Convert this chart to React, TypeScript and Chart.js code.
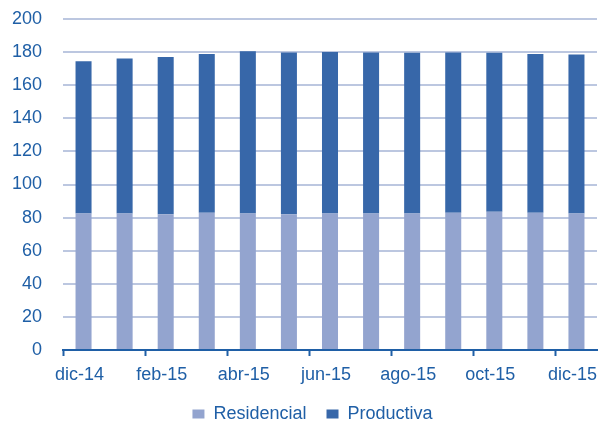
import React, { useEffect, useRef } from "react";
import { Chart, registerables } from "chart.js";

Chart.register(...registerables);

const categories = ["dic-14","ene-15","feb-15","mar-15","abr-15","may-15","jun-15","jul-15","ago-15","sep-15","oct-15","nov-15","dic-15"];
const residencial = [82.5, 82.5, 82, 83, 82.5, 82, 82.5, 82.5, 82.5, 83, 83.5, 83, 82.5];
const productiva = [92, 93.7, 95, 95.8, 98, 97.8, 97.5, 97.3, 97.1, 96.8, 96.1, 95.8, 96];
const yTicks = [0, 20, 40, 60, 80, 100, 120, 140, 160, 180, 200];

const TEXT = "#1F5FA6";
const FONT = "'Liberation Sans', Arial, sans-serif";

const noPad = (s: any) => {
  s.paddingTop = 0;
  s.paddingBottom = 0;
  s.paddingLeft = 0;
  s.paddingRight = 0;
};

export default function App() {
  const ref = useRef<HTMLCanvasElement>(null);
  useEffect(() => {
    const chart = new Chart(ref.current!, {
      type: "bar",
      data: {
        labels: categories,
        datasets: [
          { label: "Residencial", data: residencial, backgroundColor: "#93A4CF", categoryPercentage: 1, barPercentage: 0.39 },
          { label: "Productiva", data: productiva, backgroundColor: "#3767A9", categoryPercentage: 1, barPercentage: 0.39 },
        ],
      },
      options: {
        animation: false,
        responsive: false,
        maintainAspectRatio: false,
        layout: { padding: { top: 19, right: -26, left: 0, bottom: 0 } },
        plugins: {
          tooltip: { enabled: false },
          legend: {
            position: "bottom",
            maxHeight: 37,
            labels: {
              color: TEXT,
              font: { family: FONT, size: 18 },
              boxWidth: 12,
              boxHeight: 9,
              padding: 20,
            },
          },
        },
        scales: {
          x: {
            stacked: true,
            offset: true,
            afterFit: (s: any) => { s.height = 35; noPad(s); },
            border: { display: true, color: TEXT, width: 2 },
            grid: {
              display: true,
              offset: true,
              drawOnChartArea: false,
              tickLength: 6,
              tickWidth: 2,
              color: (ctx: any) => (ctx.index % 2 === 0 ? TEXT : "rgba(0,0,0,0)"),
            },
            ticks: {
              autoSkip: false,
              maxRotation: 0,
              color: TEXT,
              font: { family: FONT, size: 18 },
              padding: 8,
              labelOffset: -4,
              callback: function (this: any, v: any, i: number) {
                return i % 2 === 0 ? categories[i] : "";
              },
            },
          },
          y: {
            stacked: true,
            min: 0,
            max: 200,
            afterBuildTicks: (s: any) => { s.ticks = yTicks.map((v) => ({ value: v })); },
            afterFit: (s: any) => { s.width = 63; noPad(s); },
            border: { display: false },
            grid: { color: "#BCC7E0", lineWidth: 2, drawTicks: false },
            ticks: {
              color: TEXT,
              font: { family: FONT, size: 18 },
              padding: 21,
            },
          },
          yRight: {
            position: "right",
            display: true,
            min: 0,
            max: 200,
            afterFit: (s: any) => { s.width = 28; noPad(s); },
            border: { display: false },
            grid: { display: false, drawTicks: false },
            ticks: { display: false },
          },
        },
      },
    });
    return () => chart.destroy();
  }, []);
  return (
    <div style={{ position: "fixed", left: 0, top: 0, width: 599, height: 422 }}>
      <canvas ref={ref} width={599} height={422} />
    </div>
  );
}
